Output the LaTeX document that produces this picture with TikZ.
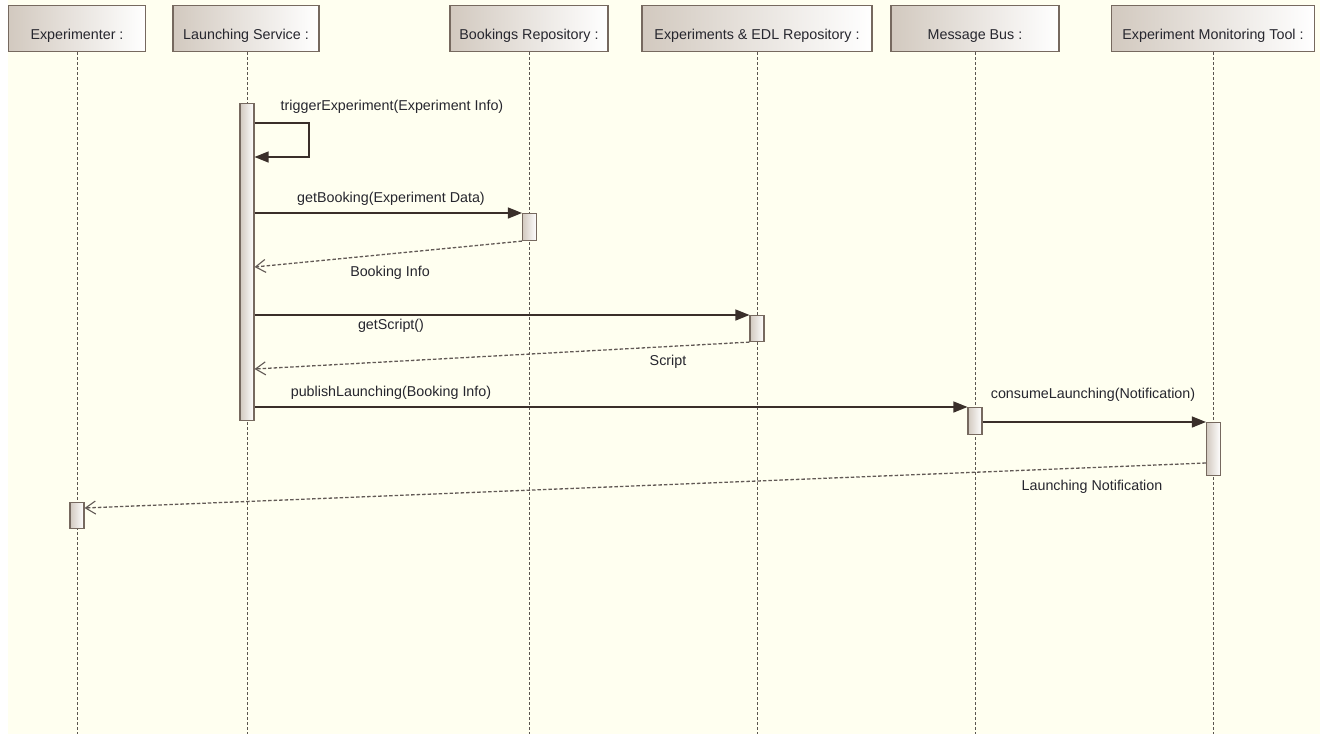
\documentclass[tikz,border=0pt]{standalone}
\usepackage{fontspec}
\setmainfont{Liberation Sans}
\usetikzlibrary{arrows.meta}
\definecolor{paper}{HTML}{FFFFF0}
\definecolor{edge}{HTML}{76695F}
\definecolor{shadeL}{HTML}{D2C9BF}
\definecolor{ink}{HTML}{3A2F2A}
\definecolor{txt}{HTML}{26262E}
\definecolor{lifegray}{HTML}{5A5550}
\tikzset{
  lbl/.style={font=\fontsize{14.3}{16}\selectfont, text=txt, inner sep=0pt},
  head/.style={draw=edge, line width=1.2pt, left color=shadeL, right color=white,
    minimum height=46, inner sep=0pt, anchor=north},
  headtext/.style={lbl, anchor=base},
  act/.style={draw=edge, line width=1.1pt, left color=shadeL, right color=white,
    minimum width=14, inner sep=0pt, anchor=north},
  life/.style={draw=lifegray, line width=0.9pt, dash pattern=on 3pt off 2pt},
  callmsg/.style={draw=ink, line width=1.3pt, -{Triangle[length=14pt,width=11pt]}},
  retmsg/.style={draw=ink!80, line width=1.3pt, dash pattern=on 3.5pt off 2pt,
    -{Straight Barb[length=10pt,width=13pt,line width=1.1pt]}},
}
\begin{document}
\begin{tikzpicture}[x=1pt,y=-1pt]
  % canvas
  \useasboundingbox (0,0) rectangle (1320,734);
  \fill[white] (0,0) rectangle (1320,734);
  \fill[paper] (8,0) rectangle (1320,734);

  % lifeline heads
  \node[head, minimum width=137] (hEX)  at (77,5)   {};
  \node[head, minimum width=146] (hLS)  at (246,5)  {};
  \node[head, minimum width=158] (hBR)  at (529,5)  {};
  \node[head, minimum width=230] (hEDL) at (757,5)  {};
  \node[head, minimum width=168] (hMB)  at (975,5)  {};
  \node[head, minimum width=203] (hEMT) at (1213,5) {};
  \node[headtext] (tEX)  at ([yshift=13]hEX.south)  {Experimenter :};
  \node[headtext] (tLS)  at ([yshift=13]hLS.south)  {Launching Service :};
  \node[headtext] (tBR)  at ([yshift=13]hBR.south)  {Bookings Repository :};
  \node[headtext] (tEDL) at ([yshift=13]hEDL.south) {Experiments \& EDL Repository :};
  \node[headtext] (tMB)  at ([yshift=13]hMB.south)  {Message Bus :};
  \node[headtext] (tEMT) at ([yshift=13]hEMT.south) {Experiment Monitoring Tool :};

  % lifelines
  \foreach \h/\x in {hEX/77, hLS/247, hBR/529, hEDL/757, hMB/975, hEMT/1213}{
    \coordinate (\h-end) at (\x,734);
    \draw[life] (\h.south -| \h-end) -- (\h-end);
  }

  % activation bars
  \node[act, minimum height=317] (aLS)  at (247,103)  {};
  \node[act, minimum height=27]  (aBR)  at (529.5,213)  {};
  \node[act, minimum height=26]  (aEDL) at (757,315)  {};
  \node[act, minimum height=27]  (aMB)  at (975,407)  {};
  \node[act, minimum height=53]  (aEMT) at (1213.5,422) {};
  \node[act, minimum height=26]  (aEX)  at (77,502)   {};

  % self call
  \coordinate (s1) at (309,123);
  \coordinate (s2) at (309,157);
  \draw[callmsg] (aLS.east |- s1) -- (s1) -- (s2) -- (aLS.east |- s2);
  \node[lbl] (tTrig) at (392,107) {triggerExperiment(Experiment Info)};

  % getBooking / Booking Info
  \draw[callmsg] (aLS.east |- aBR.north) -- (aBR.north west);
  \node[lbl] (tGB) at (391,199) {getBooking(Experiment Data)};
  \coordinate (r1) at (aLS.east |- 0,267);
  \draw[retmsg] (aBR.south west) -- (r1);
  \node[lbl] (tBI) at (390,273) {Booking Info};

  % getScript / Script
  \draw[callmsg] (aLS.east |- aEDL.north) -- (aEDL.north west);
  \node[lbl] (tGS) at (391,326) {getScript()};
  \coordinate (r2) at (aLS.east |- 0,369);
  \draw[retmsg] (aEDL.south west) -- (r2);
  \node[lbl] (tSc) at (668,362) {Script};

  % publishLaunching
  \draw[callmsg] (aLS.east |- aMB.north) -- (aMB.north west);
  \node[lbl] (tPL) at (391,393) {publishLaunching(Booking Info)};

  % consumeLaunching
  \draw[callmsg] (aMB.east |- aEMT.north) -- (aEMT.north west);
  \node[lbl] (tCL) at (1093,395) {consumeLaunching(Notification)};

  % Launching Notification
  \coordinate (r3) at (aEMT.west |- 0,463);
  \coordinate (r4) at (aEX.east |- 0,508);
  \draw[retmsg] (r3) -- (r4);
  \node[lbl] (tLN) at (1092,487) {Launching Notification};
\end{tikzpicture}
\end{document}
